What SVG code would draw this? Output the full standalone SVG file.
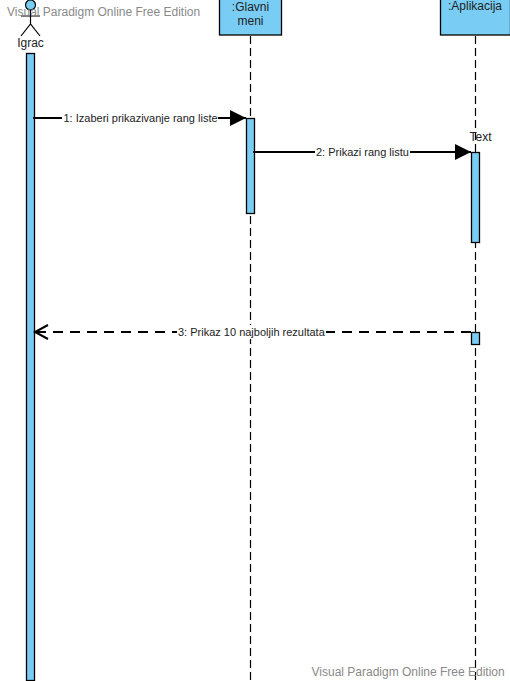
<svg xmlns="http://www.w3.org/2000/svg" width="510" height="681" viewBox="0 0 510 681">
<style>
text{font-family:"Liberation Sans",Arial,sans-serif;font-size:12px;fill:#222}
.mid{text-anchor:middle}
.box,.act{fill:#79cdf5;stroke:#000;stroke-width:1.3}
.life{stroke:#000;stroke-width:1.2;stroke-dasharray:8 4;fill:none}
.msg{stroke:#000;stroke-width:2;fill:none}
.dash{stroke-dasharray:10 7}
.lbl{fill:#fff;stroke:none}
text.small{font-size:11px}
text.wm{fill:#8a8a8a}
.stick{stroke:#000;stroke-width:1.2;fill:none}
</style>
<defs>
<marker id="solid" markerUnits="userSpaceOnUse" markerWidth="18" markerHeight="18" refX="16" refY="8" orient="auto"><path d="M0 0L16 8L0 16Z" fill="#000"/></marker>
</defs>
<rect width="510" height="681" fill="#fff"/>
<g id="actor-igrac">
<circle cx="30.500" cy="5" r="5" fill="#79cdf5" stroke="#000" stroke-width="1.200"/>
<path class="stick" d="M30.500 10V24M21 16H40M21 36L30.500 24L40 36"/>
<text class="mid" x="30.500" y="47">Igrac</text>
<rect class="act" x="26.500" y="53.500" width="8" height="627"/>
</g>
<g id="lifeline-glavni-meni">
<path class="life" d="M250.500 36V681"/>
<rect class="box" x="219.500" y="-1" width="62" height="36"/>
<text class="mid" x="250.500" y="11">:Glavni</text>
<text class="mid" x="250.500" y="25">meni</text>
<rect class="act" x="246.500" y="118.500" width="8" height="95"/>
</g>
<g id="lifeline-aplikacija">
<path class="life" d="M475.500 36V681"/>
<rect class="box" x="440.500" y="-1" width="70" height="36"/>
<text class="mid" x="475" y="10">:Aplikacija</text>
<text class="mid" x="480.500" y="141">Text</text>
<rect class="act" x="471.500" y="152.500" width="8" height="90"/>
<rect class="act" x="471.500" y="332.500" width="8" height="12"/>
</g>
<g id="connectors">
<path class="msg" d="M33 118H246" marker-end="url(#solid)"/>
<rect class="lbl" x="62" y="111" width="156" height="14"/>
<text class="small" x="63.500" y="122">1: Izaberi prikazivanje rang liste</text>
<path class="msg" d="M253 152H471" marker-end="url(#solid)"/>
<rect class="lbl" x="315" y="145" width="95" height="14"/>
<text class="small" x="316" y="156">2: Prikazi rang listu</text>
<path class="msg dash" d="M471 332H35"/>
<path class="msg" d="M48 325L35 332L48 339"/>
<rect class="lbl" x="177" y="325" width="149" height="14"/>
<text class="small" x="178" y="336">3: Prikaz 10 najboljih rezultata</text>
</g>
<g id="watermarks">
<text class="wm" x="7" y="16">Visual Paradigm Online Free Edition</text>
<text class="wm" x="311.500" y="676">Visual Paradigm Online Free Edition</text>
</g>
</svg>
